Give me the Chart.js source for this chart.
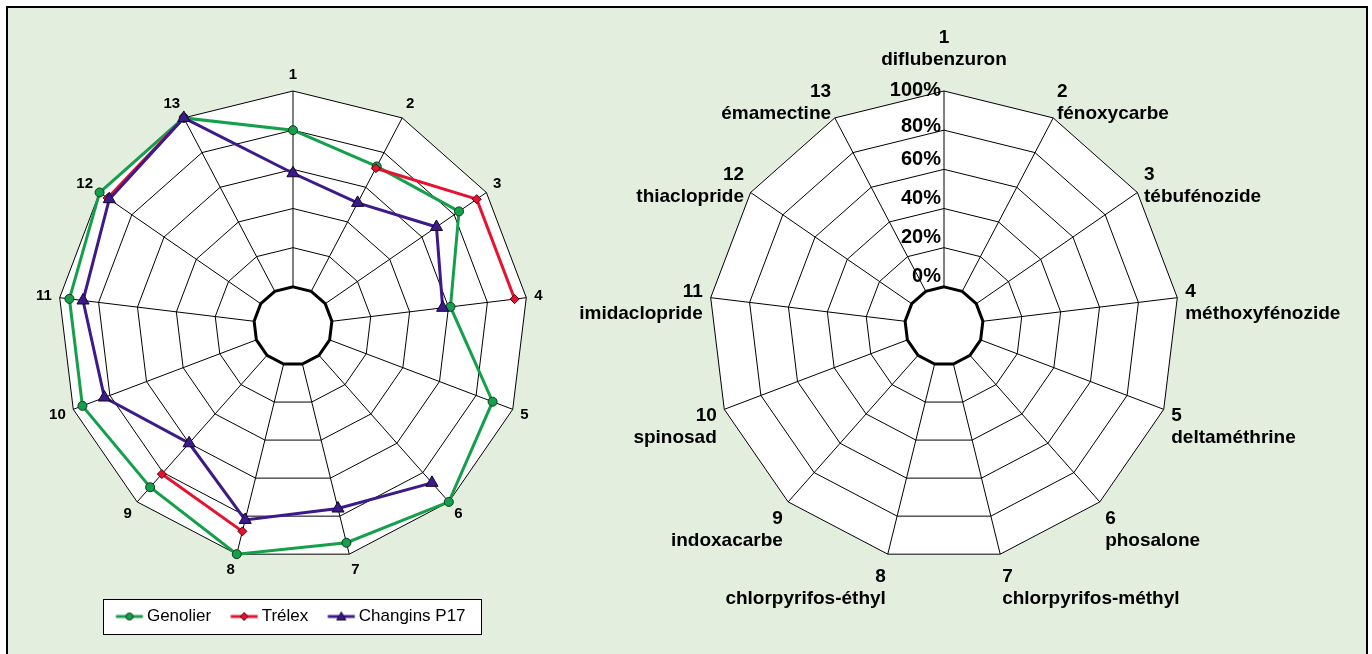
<!DOCTYPE html>
<html>
<head>
<meta charset="utf-8">
<script src="https://cdn.jsdelivr.net/npm/chart.js@4.4.1/dist/chart.umd.min.js"></script>
<style>
body{margin:0;background:#fff;width:1372px;height:654px;overflow:hidden;position:relative;font-family:"Liberation Sans",Arial,sans-serif}
#frame{position:absolute;left:6px;top:6px;width:1358px;height:660px;border:2px solid #000;background:#e3eedf}
#left{position:absolute;left:0;top:0}
#right{position:absolute;left:524px;top:0}
</style>
</head>
<body>
<div id="frame"></div>
<canvas id="left" width="586" height="654"></canvas>
<canvas id="right" width="840" height="654"></canvas>
<script>
// axis numbers and active substances
const axisLabels = ['1','2','3','4','5','6','7','8','9','10','11','12','13'];
const substances = ['diflubenzuron','fénoxycarbe','tébufénozide','méthoxyfénozide','deltaméthrine','phosalone',
    'chlorpyrifos-méthyl','chlorpyrifos-éthyl','indoxacarbe','spinosad','imidaclopride','thiaclopride','émamectine'];

// values in % (null = no value)
const genolier = [80, 72, 83, 61, 89, 100, 94, 100, 90, 95, 95, 100, 100];
const trelex   = [null, 71, 94, 94, null, null, null, 88, 81, null, null, 95, 100];
const changins = [58, 51, 69, 57, null, 87, 76, 82, 60, 83, 88, 94, 100];

// radial scale: inner hole from -20 to 0
const scaleMin = -20;
const scaleMax = 100;
const scaleStep = 20;

const FONT = '"Liberation Sans", Arial, sans-serif';

const GREEN = '#14a04a';
const RED = '#e8112f';
const PURPLE = '#3c1a8a';

// white hole + thick 0% ring
const innerRing = {
    id: 'innerRing',
    beforeDatasetsDraw(chart) {
        const s = chart.scales.r, ctx = chart.ctx;
        ctx.save();
        ctx.beginPath();
        chart.data.labels.forEach((l, i) => {
            const p = s.getPointPositionForValue(i, 0);
            if (i === 0) ctx.moveTo(p.x, p.y); else ctx.lineTo(p.x, p.y);
        });
        ctx.closePath();
        ctx.fillStyle = '#fff';
        ctx.fill();
        ctx.lineWidth = 3;
        ctx.strokeStyle = '#000';
        ctx.stroke();
        ctx.restore();
    }
};

// point labels placed like Excel does
const pointLabelsX = {
    id: 'pointLabelsX',
    afterDraw(chart, args, o) {
        const s = chart.scales.r, ctx = chart.ctx;
        ctx.save();
        ctx.font = o.font;
        ctx.fillStyle = '#000';
        ctx.textBaseline = 'middle';
        chart.data.labels.forEach((lab, i) => {
            const lines = [].concat(lab);
            const a = s.getIndexAngle(i);
            const sin = Math.sin(a), cos = Math.cos(a);
            const r = s.drawingArea + o.pad;
            const px = s.xCenter + r * sin, py = s.yCenter - r * cos;
            const h = lines.length * o.lineHeight;
            const cy = py + o.c - o.k * cos - (i === 0 ? o.topLift : 0);
            ctx.textAlign = Math.abs(sin) < 0.05 ? 'center' : (sin > 0 ? 'left' : 'right');
            lines.forEach((t, j) => ctx.fillText(t, px, cy - h / 2 + o.lineHeight * (j + 0.5)));
        });
        ctx.restore();
    }
};

// % tick labels left of axis 1
const tickLabelsX = {
    id: 'tickLabelsX',
    afterDraw(chart) {
        const s = chart.scales.r, ctx = chart.ctx;
        ctx.save();
        ctx.font = 'bold 20px ' + FONT;
        ctx.fillStyle = '#000';
        ctx.textAlign = 'right';
        ctx.textBaseline = 'middle';
        s.ticks.forEach(t => {
            if (t.value < 0) return;
            const d = s.getDistanceFromCenterForValue(t.value);
            const off = t.value === 100 ? -1 : (t.value === 80 ? -4 : -10);
            ctx.fillText(t.value + '%', s.xCenter - 3, s.yCenter - d + off);
        });
        ctx.restore();
    }
};

function legendIcon(ds) {
    const c = document.createElement('canvas');
    c.width = 30; c.height = 14;
    const g = c.getContext('2d');
    g.strokeStyle = ds.borderColor;
    g.lineWidth = 3;
    g.beginPath(); g.moveTo(1.5, 7); g.lineTo(28.5, 7); g.stroke();
    g.fillStyle = ds.pointBackgroundColor;
    g.strokeStyle = ds.pointBorderColor;
    g.lineWidth = 1;
    g.beginPath();
    if (ds.pointStyle === 'circle') {
        g.arc(15, 7, 3.5, 0, Math.PI * 2);
    } else if (ds.pointStyle === 'rectRot') {
        g.moveTo(15, 3); g.lineTo(19, 7); g.lineTo(15, 11); g.lineTo(11, 7);
    } else {
        g.moveTo(15, 2.5); g.lineTo(19.5, 10.5); g.lineTo(10.5, 10.5);
    }
    g.closePath();
    g.fill(); g.stroke();
    return c;
}

function radialScale() {
    return {
        r: {
            min: scaleMin,
            max: scaleMax,
            backgroundColor: '#fff',
            ticks: {display: false, stepSize: scaleStep},
            grid: {color: '#000', lineWidth: 1, circular: false},
            angleLines: {color: '#000', lineWidth: 1},
            pointLabels: {display: false}
        }
    };
}

new Chart(document.getElementById('left'), {
    type: 'radar',
    data: {
        labels: axisLabels,
        datasets: [
            {
                label: 'Genolier',
                data: genolier,
                order: 3,
                borderColor: GREEN,
                borderWidth: 3,
                pointStyle: 'circle',
                pointRadius: 4.5,
                pointBackgroundColor: GREEN,
                pointBorderColor: '#0c3a1a',
                pointBorderWidth: 1,
                fill: false
            },
            {
                label: 'Trélex',
                data: trelex,
                order: 2,
                borderColor: RED,
                borderWidth: 3,
                pointStyle: 'rectRot',
                pointRadius: 4.5,
                pointBackgroundColor: RED,
                pointBorderColor: '#4a0008',
                pointBorderWidth: 1,
                fill: false
            },
            {
                label: 'Changins P17',
                data: changins,
                order: 1,
                borderColor: PURPLE,
                borderWidth: 3,
                pointStyle: 'triangle',
                pointRadius: 7,
                pointBackgroundColor: PURPLE,
                pointBorderColor: '#120630',
                pointBorderWidth: 1,
                fill: false
            }
        ]
    },
    options: {
        responsive: false,
        animation: false,
        spanGaps: false,
        layout: {padding: {left: 58, right: 58, top: 68, bottom: 19}},
        scales: radialScale(),
        elements: {line: {tension: 0}},
        plugins: {
            tooltip: {enabled: false},
            legend: {
                position: 'bottom',
                labels: {
                    color: '#000',
                    font: {family: FONT, size: 17},
                    usePointStyle: true,
                    pointStyleWidth: 18,
                    padding: 24,
                    sort: (a, b) => a.datasetIndex - b.datasetIndex,
                    generateLabels(chart) {
                        const items = Chart.defaults.plugins.legend.labels.generateLabels(chart);
                        items.forEach(it => { it.pointStyle = legendIcon(chart.data.datasets[it.datasetIndex]); });
                        return items;
                    }
                }
            },
            pointLabelsX: {font: 'bold 15px ' + FONT, lineHeight: 15, pad: 8, c: 0, k: 8, topLift: 0}
        }
    },
    plugins: [innerRing, pointLabelsX, {
        id: 'legendBox',
        beforeDraw(chart) {
            const hb = chart.legend.legendHitBoxes;
            if (!hb || !hb.length) return;
            const first = hb[0], last = hb[hb.length - 1];
            const cy = first.top + first.height / 2;
            const x0 = first.left - 17, x1 = last.left + last.width + 16;
            const ctx = chart.ctx;
            ctx.save();
            ctx.fillStyle = '#fff';
            ctx.fillRect(x0, cy - 17.5, x1 - x0, 35);
            ctx.strokeStyle = '#000';
            ctx.lineWidth = 1;
            ctx.strokeRect(Math.round(x0) + 0.5, Math.round(cy - 17.5) + 0.5, Math.round(x1 - x0), 35);
            ctx.restore();
        }
    }]
});

new Chart(document.getElementById('right'), {
    type: 'radar',
    data: {
        labels: axisLabels.map((n, i) => [n, substances[i]]),
        datasets: []
    },
    options: {
        responsive: false,
        animation: false,
        layout: {padding: {left: 185, right: 185, top: 91, bottom: 93}},
        scales: radialScale(),
        plugins: {
            tooltip: {enabled: false},
            legend: {display: false},
            pointLabelsX: {font: 'bold 19px ' + FONT, lineHeight: 22, pad: 8, c: 8, k: 18, topLift: 24}
        }
    },
    plugins: [innerRing, pointLabelsX, tickLabelsX]
});
</script>
</body>
</html>
